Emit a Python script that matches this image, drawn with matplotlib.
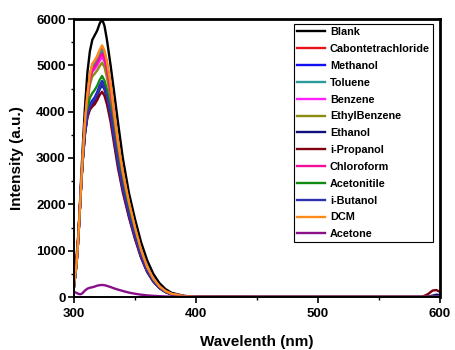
import matplotlib
matplotlib.use("Agg")
import matplotlib.pyplot as plt
from matplotlib.ticker import MultipleLocator

plt.rcParams['font.family'] = ['Liberation Sans', 'DejaVu Sans']

wavelength = [300, 302, 303, 304, 305, 306, 307, 309, 311, 313, 315, 317, 319, 321, 323,
              325, 327, 330, 333, 336, 340, 345, 350, 355, 360, 365, 370, 375, 380, 390,
              400, 450, 500, 550, 585, 590, 594, 597, 600]

blank = [220, 720, 1100, 1580, 2100, 2650, 3150, 4100, 4850, 5300, 5550, 5650, 5750, 5900, 6000,
         5850, 5550, 5000, 4400, 3780, 3000, 2250, 1680, 1180, 790, 500, 300, 170, 90, 25,
         5, 0, 0, 0, 0, 0, 0, 0, 0]
ccl4 = [240, 700, 1050, 1500, 2000, 2500, 2950, 3770, 4360, 4780, 5010, 5090, 5180, 5300, 5400,
        5290, 5050, 4560, 3920, 3320, 2680, 2030, 1480, 1000, 635, 390, 228, 125, 68, 20,
        5, 0, 0, 0, 0, 0, 0, 0, 0]
methanol = [230, 700, 1050, 1500, 1990, 2480, 2910, 3560, 3960, 4150, 4240, 4310, 4420, 4560, 4660,
            4560, 4370, 3970, 3440, 2930, 2370, 1800, 1310, 880, 560, 345, 200, 110, 59, 18,
            5, 0, 0, 0, 0, 0, 0, 0, 0]
toluene = [230, 700, 1050, 1500, 2000, 2500, 2950, 3750, 4320, 4730, 4950, 5020, 5110, 5230, 5320,
           5210, 4970, 4490, 3860, 3270, 2640, 2000, 1460, 985, 625, 385, 222, 122, 66, 19,
           5, 0, 0, 0, 0, 0, 0, 0, 0]
benzene = [230, 700, 1050, 1500, 2000, 2500, 2950, 3720, 4260, 4650, 4860, 4920, 5000, 5100, 5180,
           5080, 4850, 4380, 3770, 3200, 2580, 1960, 1430, 965, 612, 376, 218, 120, 64, 19,
           5, 0, 0, 0, 0, 0, 0, 0, 0]
ethylbenzene = [230, 700, 1050, 1500, 2000, 2500, 2950, 3700, 4210, 4580, 4760, 4820, 4890, 4980, 5060,
                4960, 4740, 4290, 3700, 3140, 2530, 1920, 1400, 948, 600, 368, 213, 117, 63, 19,
                5, 0, 0, 0, 0, 0, 0, 0, 0]
ethanol = [230, 700, 1050, 1490, 1980, 2470, 2890, 3530, 3900, 4070, 4160, 4230, 4340, 4480, 4580,
           4480, 4290, 3900, 3380, 2870, 2320, 1760, 1280, 862, 548, 338, 196, 108, 57, 18,
           5, 0, 0, 0, 0, 10, 30, 50, 40]
ipropanol = [630, 880, 1150, 1550, 2000, 2480, 2900, 3520, 3880, 4040, 4110, 4160, 4250, 4360, 4430,
             4340, 4160, 3780, 3280, 2790, 2260, 1720, 1250, 845, 538, 332, 193, 106, 56, 18,
             5, 0, 0, 0, 0, 60, 140, 150, 110]
chloroform = [230, 700, 1050, 1500, 2000, 2500, 2950, 3730, 4290, 4690, 4900, 4970, 5060, 5170, 5260,
              5150, 4910, 4440, 3820, 3240, 2610, 1980, 1450, 975, 618, 380, 220, 121, 65, 19,
              5, 0, 0, 0, 0, 0, 0, 0, 0]
acetonitile = [230, 700, 1050, 1500, 1990, 2490, 2930, 3620, 4060, 4300, 4400, 4470, 4560, 4680, 4770,
               4670, 4470, 4060, 3520, 3000, 2430, 1850, 1350, 905, 575, 355, 206, 113, 60, 18,
               5, 0, 0, 0, 0, 0, 0, 0, 0]
ibutanol = [230, 700, 1050, 1500, 1990, 2480, 2900, 3550, 3930, 4110, 4200, 4270, 4380, 4520, 4620,
            4520, 4330, 3940, 3410, 2900, 2350, 1780, 1300, 875, 555, 342, 198, 109, 58, 18,
            5, 0, 0, 0, 0, 0, 0, 0, 0]
dcm = [230, 700, 1050, 1500, 2000, 2500, 2950, 3780, 4380, 4800, 5030, 5110, 5200, 5330, 5430,
       5320, 5080, 4600, 3950, 3350, 2700, 2050, 1500, 1015, 645, 396, 230, 126, 68, 20,
       5, 0, 0, 0, 0, 0, 0, 0, 0]
acetone = [110, 90, 75, 65, 60, 65, 85, 140, 180, 200, 210, 225, 245, 255, 260,
           255, 240, 215, 185, 160, 130, 95, 70, 50, 35, 25, 18, 12, 8, 4,
           2, 0, 0, 0, 0, 0, 0, 0, 0]

labels = ['Blank', 'Cabontetrachloride', 'Methanol', 'Toluene', 'Benzene', 'EthylBenzene',
          'Ethanol', 'i-Propanol', 'Chloroform', 'Acetonitile', 'i-Butanol', 'DCM', 'Acetone']
series = [blank, ccl4, methanol, toluene, benzene, ethylbenzene, ethanol, ipropanol,
          chloroform, acetonitile, ibutanol, dcm, acetone]
colors = ['#000000', '#e8141c', '#1010f0', '#2a9a9a', '#ff20ff', '#8c8c10', '#10107a',
          '#800010', '#f0109a', '#108a10', '#3030b0', '#ff8c1a', '#8a108a']

fig = plt.figure(figsize=(4.56, 3.5), dpi=100)
ax = fig.add_axes([74/456, 53/350, 366/456, 278/350])

for s, c, l in zip(series, colors, labels):
    ax.plot(wavelength, s, color=c, lw=1.7, label=l)

ax.set_xlim(300, 600)
ax.set_ylim(0, 6000)
ax.xaxis.set_major_locator(MultipleLocator(100))
ax.xaxis.set_minor_locator(MultipleLocator(50))
ax.yaxis.set_major_locator(MultipleLocator(1000))
ax.yaxis.set_minor_locator(MultipleLocator(500))
ax.tick_params(which='major', direction='out', length=4, width=1.2, labelsize=9.5)
ax.tick_params(axis='x', which='major', pad=4)
ax.tick_params(axis='y', which='major', pad=2)
ax.tick_params(which='minor', direction='out', length=2, width=1.0)
ax.tick_params(top=False, right=False, which='both')
for lab in ax.get_xticklabels() + ax.get_yticklabels():
    lab.set_fontweight('bold')
for side, w in zip(['left', 'bottom', 'top', 'right'], [1.4, 1.4, 2.0, 2.0]):
    ax.spines[side].set_linewidth(w)
    ax.spines[side].set_color('black')

ax.set_xlabel('Wavelenth (nm)', fontsize=11, fontweight='bold', labelpad=11)
ax.set_ylabel('Intensity (a.u.)', fontsize=11, fontweight='bold', labelpad=9)

leg = ax.legend(loc='upper right', bbox_to_anchor=(0.981, 0.982), borderaxespad=0,
                prop={'size': 7.8, 'weight': 'bold'}, handlelength=2.6, handletextpad=0.45,
                labelspacing=0.63, borderpad=0.3, fancybox=False, framealpha=1,
                edgecolor='black')
leg.get_frame().set_linewidth(0.8)

fig.savefig('out.png', dpi=100)
